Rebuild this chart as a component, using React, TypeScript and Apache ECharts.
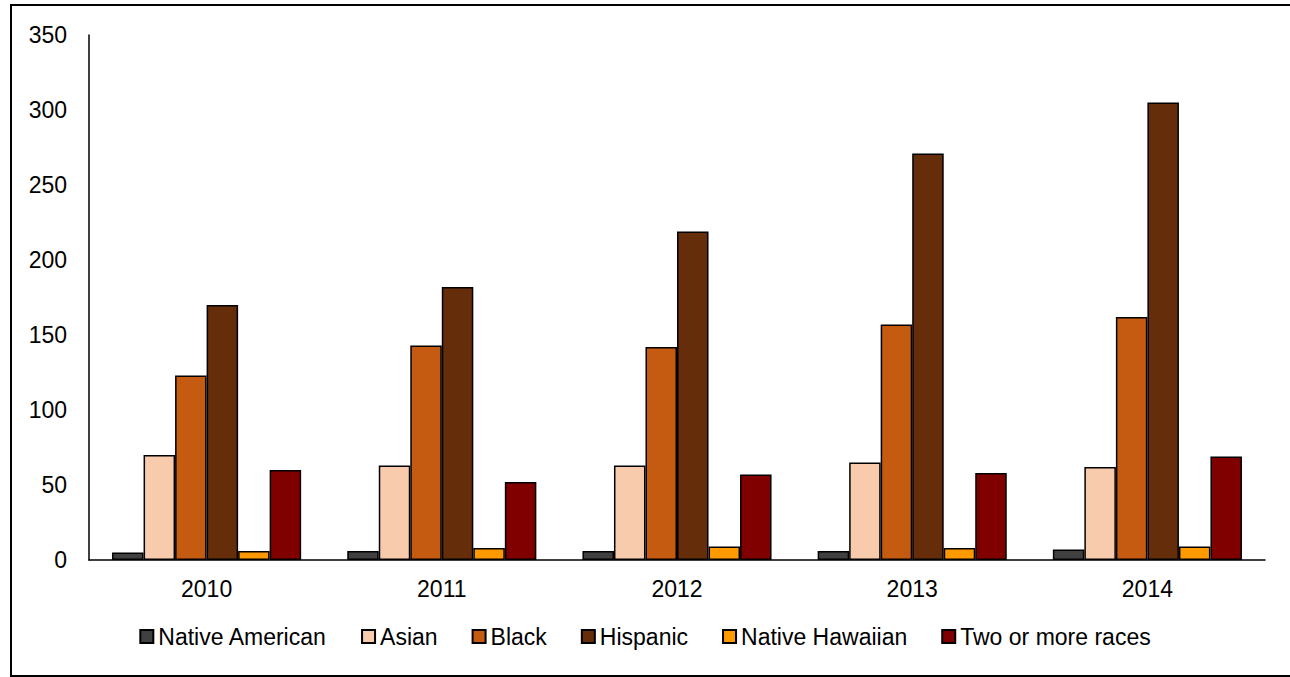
import React, { useEffect, useRef } from "react";
import * as echarts from "echarts";

const years = ["2010", "2011", "2012", "2013", "2014"];
const nativeAmerican = [5, 6, 6, 6, 7];
const asian = [70, 63, 63, 65, 62];
const black = [123, 143, 142, 157, 162];
const hispanic = [170, 182, 219, 271, 305];
const nativeHawaiian = [6, 8, 9, 8, 9];
const twoOrMore = [60, 52, 57, 58, 69];

const seriesDefs = [
  { name: "Native American", data: nativeAmerican, color: "#404040" },
  { name: "Asian", data: asian, color: "#F8CBAD" },
  { name: "Black", data: black, color: "#C55A11" },
  { name: "Hispanic", data: hispanic, color: "#662D0B" },
  { name: "Native Hawaiian", data: nativeHawaiian, color: "#FF9900" },
  { name: "Two or more races", data: twoOrMore, color: "#800000" },
];

export default function App() {
  const ref = useRef<HTMLDivElement>(null);
  useEffect(() => {
    if (!ref.current) return;
    const chart = echarts.init(ref.current, undefined, { renderer: "svg" });
    const font = "Arial, 'Liberation Sans', sans-serif";
    chart.setOption({
      animation: false,
      backgroundColor: "#ffffff",
      graphic: [
        {
          type: "polyline",
          shape: { points: [[1300, 5], [11, 5], [11, 676], [1300, 676]] },
          style: { fill: "none", stroke: "#000", lineWidth: 2 },
          silent: true,
          z: 0,
        },
      ],
      grid: { left: 89, right: 25, top: 35, bottom: 117 },
      legend: {
        bottom: 24,
        left: "center",
        itemWidth: 13,
        itemHeight: 13,
        itemGap: 34,
        icon: "rect",
        textStyle: { fontFamily: font, fontSize: 23, color: "#000" },
        data: seriesDefs.map((s) => s.name),
      },
      xAxis: {
        type: "category",
        data: years,
        axisLine: { show: true, lineStyle: { color: "#000", width: 1.5 } },
        axisTick: { show: false },
        axisLabel: { fontFamily: font, fontSize: 23, color: "#000", margin: 17 },
      },
      yAxis: {
        type: "value",
        min: 0,
        max: 350,
        interval: 50,
        axisLine: { show: true, lineStyle: { color: "#000", width: 1.5 } },
        axisTick: { show: false },
        splitLine: { show: false },
        axisLabel: { fontFamily: font, fontSize: 23, color: "#000", margin: 22 },
      },
      series: seriesDefs.map((s) => ({
        type: "bar",
        name: s.name,
        data: s.data,
        barGap: "0%",
        barCategoryGap: "19.6%",
        itemStyle: { color: s.color, borderColor: "#000", borderWidth: 1.5 },
      })),
    });
    return () => chart.dispose();
  }, []);
  return (
    <div
      ref={ref}
      style={{ position: "absolute", left: 0, top: 0, width: 1290, height: 677 }}
    />
  );
}
